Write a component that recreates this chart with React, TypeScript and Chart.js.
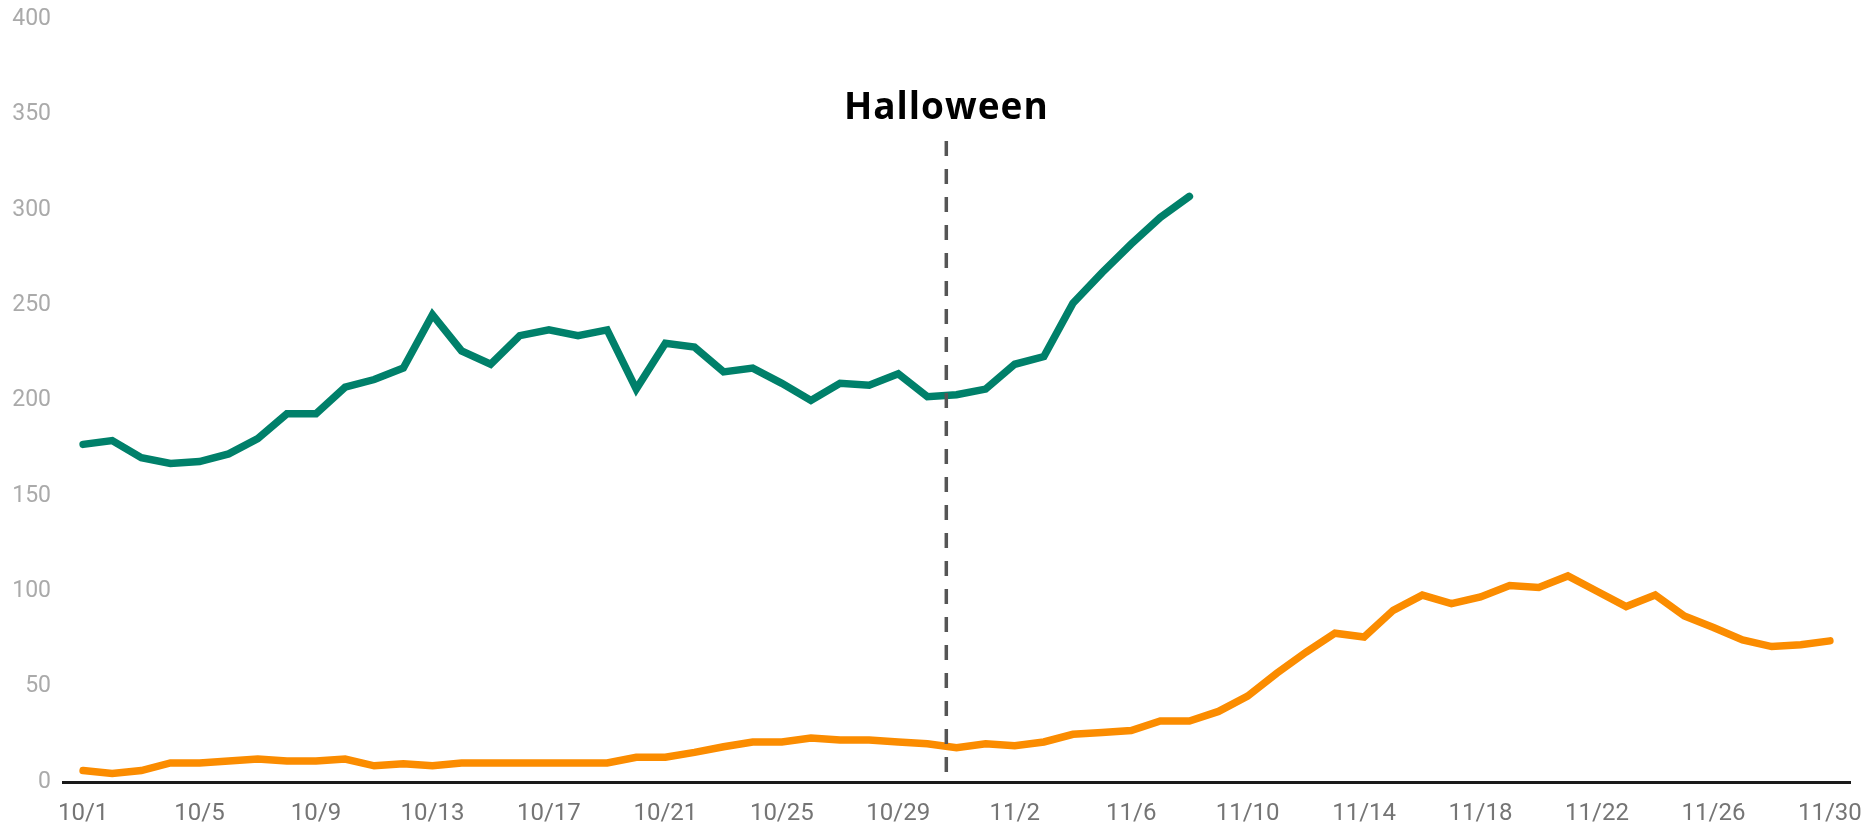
import React, { useEffect, useRef } from "react";
import { Chart, registerables } from "chart.js";

Chart.register(...registerables);

// Categories: one per day, 10/1 .. 11/30
const DATES = [
  "10/1", "10/2", "10/3", "10/4", "10/5", "10/6", "10/7", "10/8", "10/9", "10/10",
  "10/11", "10/12", "10/13", "10/14", "10/15", "10/16", "10/17", "10/18", "10/19", "10/20",
  "10/21", "10/22", "10/23", "10/24", "10/25", "10/26", "10/27", "10/28", "10/29", "10/30",
  "10/31", "11/1", "11/2", "11/3", "11/4", "11/5", "11/6", "11/7", "11/8", "11/9",
  "11/10", "11/11", "11/12", "11/13", "11/14", "11/15", "11/16", "11/17", "11/18", "11/19",
  "11/20", "11/21", "11/22", "11/23", "11/24", "11/25", "11/26", "11/27", "11/28", "11/29",
  "11/30",
];

// Green series (10/1 .. 11/8)
const GREEN = [
  177, 179, 170, 167, 168, 172, 180, 193, 193, 207,
  211, 217, 245, 226, 219, 234, 237, 234, 237, 206,
  230, 228, 215, 217, 209, 200, 209, 208, 214, 202,
  203, 206, 219, 223, 251, 267, 282, 296, 307,
];

// Orange series (10/1 .. 11/30)
const ORANGE = [
  6, 4.5, 6, 10, 10, 11, 12, 11, 11, 12,
  8.5, 9.5, 8.5, 10, 10, 10, 10, 10, 10, 13,
  13, 15.5, 18.5, 21, 21, 23, 22, 22, 21, 20,
  18, 20, 19, 21, 25, 26, 27, 32, 32, 37,
  45, 57, 68, 78, 76, 90, 98, 93.5, 97, 103,
  102, 108, 100, 92, 98, 87, 81, 74.5, 71, 72,
  74,
];

const X_TICK_EVERY = 4;
const Y_MIN = 0;
const Y_MAX = 400;
const Y_STEP = 50;

const HALLOWEEN_AT = 29.65; // position on the day axis
const HALLOWEEN_TOP = 336; // top of dashed marker, in y units
const HALLOWEEN_LABEL = "Halloween";

const GREEN_COLOR = "#00806a";
const ORANGE_COLOR = "#fb8c00";

export default function App() {
  const canvasRef = useRef<HTMLCanvasElement | null>(null);

  useEffect(() => {
    const canvas = canvasRef.current;
    if (!canvas) return;

    const halloweenPlugin = {
      id: "halloween",
      afterDatasetsDraw(chart: any) {
        const { ctx, chartArea } = chart;
        const xs = chart.scales.x;
        const ys = chart.scales.y;
        const px = xs.getPixelForValue(HALLOWEEN_AT);
        const top = ys.getPixelForValue(HALLOWEEN_TOP);
        ctx.save();
        ctx.strokeStyle = "#555555";
        ctx.lineWidth = 3.5;
        ctx.setLineDash([15, 13]);
        ctx.beginPath();
        ctx.moveTo(px, top);
        ctx.lineTo(px, chartArea.bottom);
        ctx.stroke();
        ctx.setLineDash([]);
        ctx.fillStyle = "#000000";
        ctx.font = "700 37px 'Open Sans'";
        try {
          (ctx as any).letterSpacing = "1px";
        } catch (e) {}
        ctx.textAlign = "center";
        ctx.textBaseline = "alphabetic";
        ctx.fillText(HALLOWEEN_LABEL, px, top - 22);
        ctx.restore();
      },
    };

    const chart = new Chart(canvas, {
      type: "line",
      data: {
        datasets: [
          {
            label: "green",
            data: GREEN.map((v, i) => ({ x: i, y: v })),
            borderColor: GREEN_COLOR,
            backgroundColor: GREEN_COLOR,
            borderWidth: 7.5,
            pointRadius: 0,
            borderCapStyle: "round",
            borderJoinStyle: "miter",
            tension: 0,
          },
          {
            label: "orange",
            data: ORANGE.map((v, i) => ({ x: i, y: v })),
            borderColor: ORANGE_COLOR,
            backgroundColor: ORANGE_COLOR,
            borderWidth: 7.5,
            pointRadius: 0,
            borderCapStyle: "round",
            borderJoinStyle: "miter",
            tension: 0,
          },
        ],
      },
      options: {
        animation: false,
        responsive: true,
        maintainAspectRatio: false,
        layout: { padding: { top: 0, right: 15, left: 0, bottom: 0 } },
        plugins: {
          legend: { display: false },
          tooltip: { enabled: false },
        },
        scales: {
          x: {
            type: "linear",
            min: -0.69,
            max: DATES.length - 1 + 0.69,
            grid: { display: false, drawTicks: false },
            border: { display: true, color: "#1a1a1a", width: 3 },
            afterBuildTicks: (scale: any) => {
              scale.ticks = DATES.map((_, i) => i)
                .filter((i) => i % X_TICK_EVERY === 0)
                .map((v) => ({ value: v }));
            },
            afterFit: (scale: any) => {
              scale.height = 43;
              scale.paddingLeft = 0;
              scale.paddingRight = 0;
            },
            ticks: {
              autoSkip: false,
              maxRotation: 0,
              padding: 20,
              color: "#757575",
              font: { family: "Roboto", size: 24, lineHeight: 1 },
              callback: (v: any) => DATES[v as number] ?? "",
            },
          },
          y: {
            min: Y_MIN,
            max: Y_MAX,
            grid: { display: false, drawTicks: false },
            border: { display: false },
            afterFit: (scale: any) => {
              scale.width = 55;
              scale.paddingTop = 11;
              scale.paddingBottom = 11;
            },
            ticks: {
              stepSize: Y_STEP,
              padding: 12,
              color: "#aaaaaa",
              font: { family: "Roboto", size: 23, lineHeight: 1 },
            },
          },
        },
      },
      plugins: [halloweenPlugin],
    } as any);

    return () => {
      chart.destroy();
    };
  }, []);

  return (
    <div
      style={{
        position: "fixed",
        left: 8,
        top: 8,
        width: 1857,
        height: 817,
        overflow: "hidden",
      }}
    >
      <canvas ref={canvasRef} style={{ display: "block" }} />
    </div>
  );
}
